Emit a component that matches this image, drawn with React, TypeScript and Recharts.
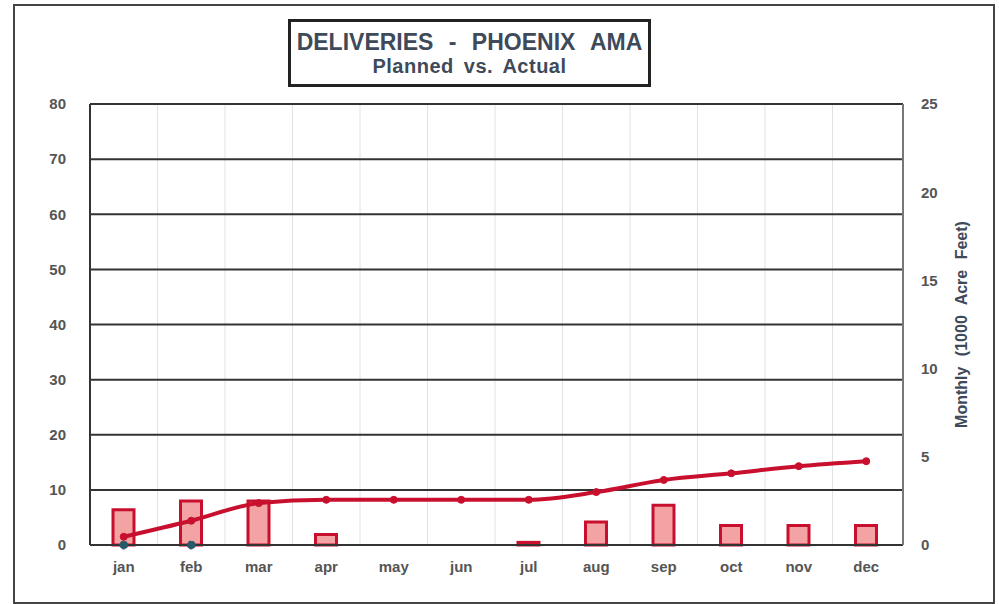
import React from "react";
import {
  ComposedChart,
  Bar,
  Line,
  XAxis,
  YAxis,
  CartesianGrid,
} from "recharts";

// Months along the bottom axis
const months = ["jan", "feb", "mar", "apr", "may", "jun", "jul", "aug", "sep", "oct", "nov", "dec"];

// Monthly deliveries (1000 acre-feet), right axis
const monthlyDeliveries = [2.0, 2.5, 2.5, 0.6, 0, 0, 0.15, 1.3, 2.25, 1.1, 1.1, 1.1];

// Planned cumulative curve, left axis
const plannedCurve = [1.5, 4.4, 7.6, 8.2, 8.2, 8.2, 8.2, 9.6, 11.8, 13.0, 14.3, 15.2];

// Actual to date, left axis
const actualToDate: (number | null)[] = [0, 0, null, null, null, null, null, null, null, null, null, null];

const leftTicks = [0, 10, 20, 30, 40, 50, 60, 70, 80];
const rightTicks = [0, 5, 10, 15, 20, 25];

const data = months.map((m, i) => ({
  month: m,
  monthly: monthlyDeliveries[i],
  planned: plannedCurve[i],
  actual: actualToDate[i],
}));

const FONT = "'Liberation Sans', Arial, sans-serif";
const tickStyle = { fill: "#555", fontSize: 15, fontWeight: 700, fontFamily: FONT };

export default function App() {
  return (
    <div
      style={{
        position: "absolute",
        left: 0,
        top: 0,
        width: 999,
        height: 604,
        background: "#fff",
        fontFamily: FONT,
      }}
    >
      {/* outer frame */}
      <div
        style={{
          position: "absolute",
          left: 13,
          top: 4,
          width: 982,
          height: 600,
          border: "2px solid #444",
          boxSizing: "border-box",
        }}
      />
      <ComposedChart
        width={999}
        height={604}
        data={data}
        margin={{ top: 104, right: 56, bottom: 29, left: 50 }}
        style={{ position: "absolute", left: 0, top: 0 }}
      >
        <CartesianGrid
          horizontal={false}
          vertical={true}
          stroke="#e2e2e2"
          strokeWidth={1}
          verticalCoordinatesGenerator={({ offset }: any) => {
            const w = (offset.width - 3) / months.length;
            return months.slice(1).map((_, i) => offset.left + w * (i + 1));
          }}
        />
        <CartesianGrid
          yAxisId="left"
          horizontal={true}
          vertical={false}
          stroke="#333"
          strokeWidth={2}
        />
        <XAxis
          dataKey="month"
          padding={{ left: 0, right: 3 }}
          height={30}
          tickLine={false}
          axisLine={{ stroke: "#333", strokeWidth: 2 }}
          tick={tickStyle}
          tickMargin={10}
          interval={0}
        />
        <YAxis
          yAxisId="left"
          orientation="left"
          width={40}
          domain={[0, 80]}
          ticks={leftTicks}
          tickLine={false}
          axisLine={{ stroke: "#333", strokeWidth: 2 }}
          tick={tickStyle}
          tickMargin={18}
          interval={0}
        />
        <YAxis
          yAxisId="right"
          orientation="right"
          width={40}
          domain={[0, 25]}
          ticks={rightTicks}
          tickLine={false}
          axisLine={{ stroke: "#777", strokeWidth: 2 }}
          tick={tickStyle}
          tickMargin={12}
          interval={0}
          label={{
            value: "Monthly (1000 Acre Feet)",
            angle: -90,
            position: "right",
            offset: 18,
            style: {
              fill: "#3e4a5a",
              fontSize: 16,
              fontWeight: 700,
              fontFamily: FONT,
              textAnchor: "middle",
              wordSpacing: 6,
            },
          }}
        />
        <Bar
          yAxisId="right"
          dataKey="monthly"
          barSize={21}
          fill="#f3a3a3"
          stroke="#c8102e"
          strokeWidth={3}
          isAnimationActive={false}
        />
        <Line
          yAxisId="left"
          type="monotone"
          dataKey="planned"
          stroke="#c8102e"
          strokeWidth={4}
          dot={{ r: 3.5, fill: "#c8102e", stroke: "#c8102e", strokeWidth: 1 }}
          isAnimationActive={false}
        />
        <Line
          yAxisId="left"
          type="linear"
          dataKey="actual"
          stroke="#2a2a2a"
          strokeWidth={2}
          strokeDasharray="3 2"
          dot={{ r: 4, fill: "#2a5a6a", stroke: "#2a5a6a", strokeWidth: 1 }}
          connectNulls={false}
          isAnimationActive={false}
        />
      </ComposedChart>
      {/* title box */}
      <div
        style={{
          position: "absolute",
          left: 288,
          top: 19,
          width: 363,
          height: 68,
          border: "3px solid #222",
          boxSizing: "border-box",
          background: "#fff",
          color: "#3e4a5a",
          textAlign: "center",
          fontWeight: 700,
        }}
      >
        <div style={{ fontSize: 23, lineHeight: "26px", marginTop: 7, wordSpacing: 9 }}>
          DELIVERIES - PHOENIX AMA
        </div>
        <div style={{ fontSize: 20, lineHeight: "23px", letterSpacing: 0.5, wordSpacing: 4 }}>
          Planned vs. Actual
        </div>
      </div>
    </div>
  );
}
